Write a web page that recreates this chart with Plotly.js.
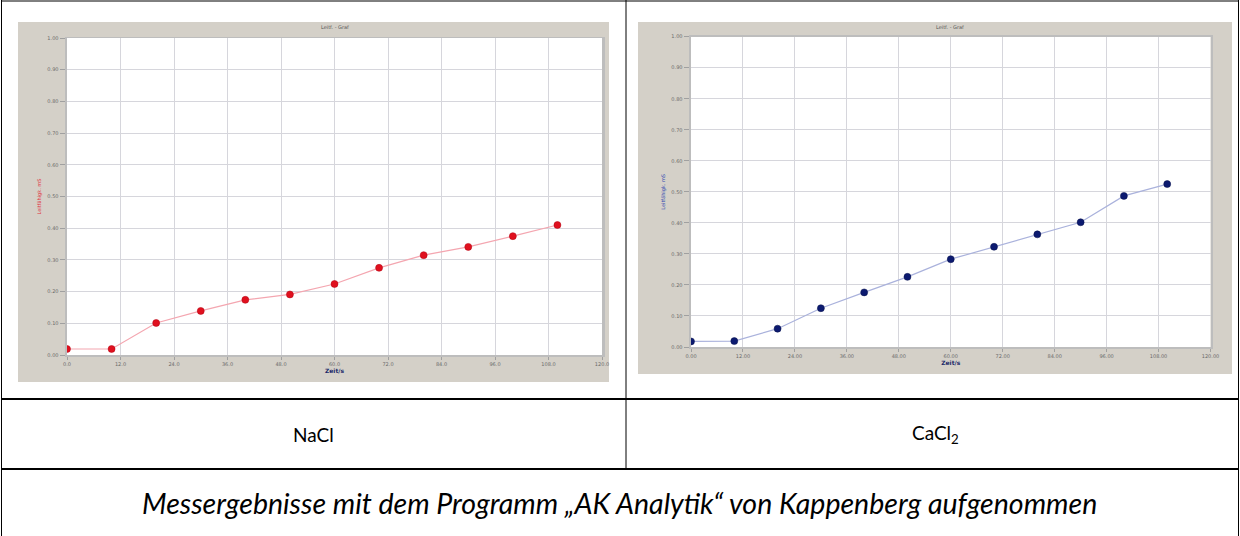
<!DOCTYPE html>
<html>
<head>
<meta charset="utf-8">
<script src="https://cdn.plot.ly/plotly-3.0.1.min.js"></script>
<style>
html,body{margin:0;padding:0;background:#fff;}
#chart{width:1240px;height:536px;}
</style>
</head>
<body>
<div id="chart"></div>
<script>
// ---- data ----
const xValues = [0, 10, 20, 30, 40, 50, 60, 70, 80, 90, 100, 110];
const naclValues = [0.019, 0.019, 0.101, 0.139, 0.174, 0.191, 0.224, 0.275, 0.315, 0.341, 0.375, 0.410];
const cacl2Values = [0.018, 0.019, 0.059, 0.125, 0.176, 0.226, 0.283, 0.323, 0.363, 0.402, 0.487, 0.525];
const xTickValues = [0, 12, 24, 36, 48, 60, 72, 84, 96, 108, 120];
const yTickValues = [0, 0.1, 0.2, 0.3, 0.4, 0.5, 0.6, 0.7, 0.8, 0.9, 1.0];
const panelLabels = ["NaCl", "CaCl<sub>2</sub>"];
const captionText = "Messergebnisse mit dem Programm „AK Analytik“ von Kappenberg aufgenommen";
const chartTitles = ["Leitf. - Graf", "Leitf. - Graf"];
const xTitle = "Zeit/s";
const yTitle = "Leitfähigk. mS";

const W = 1240, H = 536;
const px = v => v / W;
const py = v => 1 - v / H;

const traces = [
  {
    x: xValues, y: naclValues, xaxis: 'x', yaxis: 'y', mode: 'lines+markers',
    line: {color: '#f4a6b0', width: 1.2},
    marker: {color: '#e0101e', size: 7, line: {color: '#b00010', width: 0.5}},
    hoverinfo: 'x+y', showlegend: false
  },
  {
    x: xValues, y: cacl2Values, xaxis: 'x2', yaxis: 'y2', mode: 'lines+markers',
    line: {color: '#aab2dc', width: 1.2},
    marker: {color: '#0c1a70', size: 7, line: {color: '#06104a', width: 0.5}},
    hoverinfo: 'x+y', showlegend: false
  }
];

function xAxis(domain, fmt, anchor) {
  return {
    domain: domain, anchor: anchor, range: [0, 120],
    tickvals: xTickValues, tickformat: fmt,
    showgrid: true, gridcolor: '#d6d6dc', gridwidth: 1,
    zeroline: false, showline: true, linecolor: '#bdbdbd', linewidth: 1.5, mirror: true,
    ticks: 'outside', ticklen: 3, tickcolor: '#a0a0a0',
    tickfont: {size: 5, color: '#6a6a6a', family: 'DejaVu Sans'},
    title: {text: '<b>' + xTitle + '</b>', font: {size: 6, color: '#1c2a6a', family: 'DejaVu Sans'}, standoff: 3},
    fixedrange: true
  };
}
function yAxis(domain, anchor, color) {
  return {
    domain: domain, anchor: anchor, range: [0, 1.0],
    tickvals: yTickValues, tickformat: '.2f',
    showgrid: true, gridcolor: '#d6d6dc', gridwidth: 1,
    zeroline: false, showline: true, linecolor: '#bdbdbd', linewidth: 2.5, mirror: true,
    ticks: 'outside', ticklen: 5, tickcolor: '#a0a0a0',
    tickfont: {size: 5, color: '#6a6a6a', family: 'DejaVu Sans'},
    title: {text: yTitle, font: {size: 5, color: color, family: 'DejaVu Sans'}, standoff: 6},
    fixedrange: true
  };
}

function rect(x0, x1, y0, y1, fill) {
  return {type: 'rect', xref: 'paper', yref: 'paper', layer: 'below',
          x0: px(x0), x1: px(x1), y0: py(y1), y1: py(y0), fillcolor: fill, line: {width: 0}};
}
function hline(y, x0, x1, w) {
  return {type: 'line', xref: 'paper', yref: 'paper', x0: px(x0), x1: px(x1), y0: py(y), y1: py(y), line: {color: '#000', width: w}};
}
function vline(x, y0, y1, w) {
  return {type: 'line', xref: 'paper', yref: 'paper', x0: px(x), x1: px(x), y0: py(y1), y1: py(y0), line: {color: '#000', width: w}};
}
function label(x, y, text, size, color, family) {
  return {xref: 'paper', yref: 'paper', x: px(x), y: py(y), xanchor: 'center', yanchor: 'middle',
          text: text, showarrow: false, font: {size: size, color: color, family: family}};
}

const layout = {
  width: W, height: H, autosize: false,
  margin: {l: 0, r: 0, t: 0, b: 0, pad: 0},
  paper_bgcolor: '#ffffff', plot_bgcolor: '#ffffff',
  showlegend: false,
  xaxis: xAxis([px(67), px(602)], '.1f', 'y'),
  yaxis: yAxis([py(355), py(38)], 'x', '#e03040'),
  xaxis2: xAxis([px(691), px(1210.5)], '.2f', 'y2'),
  yaxis2: yAxis([py(347), py(36.7)], 'x2', '#3048b0'),
  shapes: [
    // grey screenshot panels
    rect(18, 609, 22, 382, '#d4d0c8'),
    rect(638, 1232, 22, 374, '#d4d0c8'),
    // white plot areas
    rect(67, 602, 38, 355, '#ffffff'),
    rect(691, 1210.5, 36.7, 347, '#ffffff'),
    // table borders
    vline(1.5, 0, 536, 1),
    vline(1238.5, 0, 536, 1),
    hline(1, 1, 1239, 1),
    vline(626, 0, 469, 1),
    hline(399, 1, 1239, 2),
    hline(469, 1, 1239, 2)
  ],
  annotations: [
    label(334.5, 27, chartTitles[0], 5, '#555', 'DejaVu Sans'),
    label(950.5, 27, chartTitles[1], 5, '#555', 'DejaVu Sans'),
    label(313.5, 434, panelLabels[0], 19, '#000', 'Lato'),
    label(935, 434, panelLabels[1], 19, '#000', 'Lato'),
    label(619, 503, '<i>' + captionText + '</i>', 28.5, '#000', 'Lato')
  ]
};

Plotly.newPlot('chart', traces, layout, {displayModeBar: false, staticPlot: true});
</script>
</body>
</html>
